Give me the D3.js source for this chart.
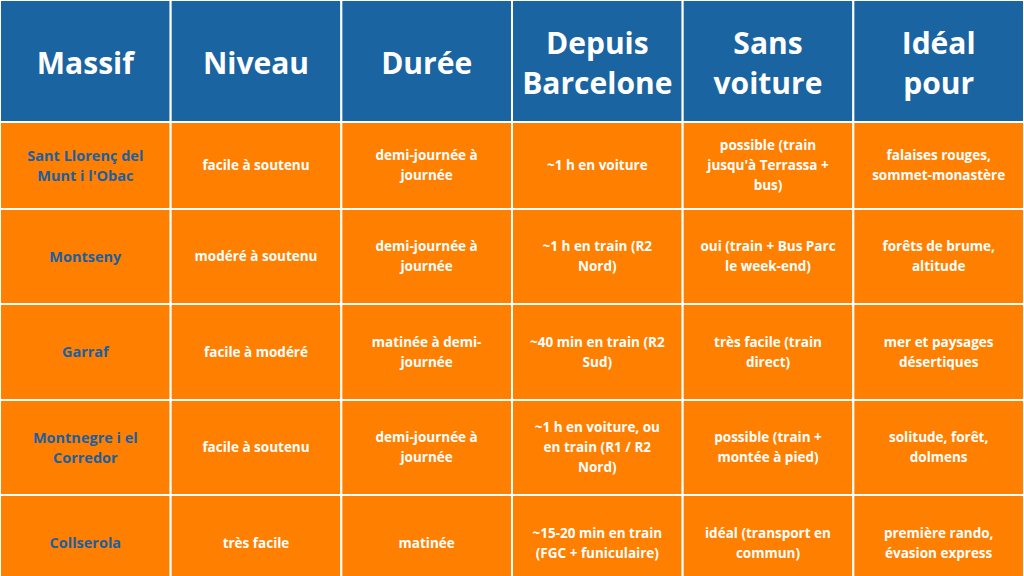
<!DOCTYPE html>
<html><head><meta charset="utf-8">
<script src="https://cdn.jsdelivr.net/npm/d3@7"></script>
<style>body{margin:0;background:#fff}</style></head>
<body><svg id="c" width="1024" height="576"></svg>
<script>
const headers = [["Massif"],["Niveau"],["Durée"],["Depuis","Barcelone"],["Sans","voiture"],["Idéal","pour"]];
const massifs = [["Sant Llorenç del","Munt i l'Obac"],["Montseny"],["Garraf"],["Montnegre i el","Corredor"],["Collserola"]];
const niveaux = [["facile à soutenu"],["modéré à soutenu"],["facile à modéré"],["facile à soutenu"],["très facile"]];
const durees = [["demi-journée à","journée"],["demi-journée à","journée"],["matinée à demi-","journée"],["demi-journée à","journée"],["matinée"]];
const depuis = [["~1 h en voiture"],["~1 h en train (R2","Nord)"],["~40 min en train (R2","Sud)"],["~1 h en voiture, ou","en train (R1 / R2","Nord)"],["~15-20 min en train","(FGC + funiculaire)"]];
const sansVoiture = [["possible (train","jusqu'à Terrassa +","bus)"],["oui (train + Bus Parc","le week-end)"],["très facile (train","direct)"],["possible (train +","montée à pied)"],["idéal (transport en","commun)"]];
const ideal = [["falaises rouges,","sommet-monastère"],["forêts de brume,","altitude"],["mer et paysages","désertiques"],["solitude, forêt,","dolmens"],["première rando,","évasion express"]];
const columns = [massifs,niveaux,durees,depuis,sansVoiture,ideal];

const svg = d3.select("#c");
const x = d3.scaleBand().domain(d3.range(6)).range([0,1024]);
const rowEdges = [0,122,209,304,400,495,591];
const font = "'Open Sans', sans-serif";

headers.forEach((h,i)=>{
  svg.append("rect").attr("x",x(i)).attr("y",0).attr("width",x.bandwidth()).attr("height",rowEdges[1])
    .attr("fill","#1b64a2").attr("stroke","#fff").attr("stroke-width",2);
  const t = svg.append("text").attr("x",x(i)+x.bandwidth()/2).attr("text-anchor","middle")
    .attr("fill","#fff").attr("font-family",font).attr("font-weight",700).attr("font-size",30);
  const lh=40, cy=rowEdges[1]/2+2;
  h.forEach((l,k)=>t.append("tspan").attr("x",x(i)+x.bandwidth()/2)
    .attr("y",cy+(k-(h.length-1)/2)*lh).attr("dy","0.35em").text(l));
});
for(let r=0;r<5;r++){
  const y0=rowEdges[r+1], y1=rowEdges[r+2], cy=(y0+y1)/2;
  columns.forEach((col,i)=>{
    svg.append("rect").attr("x",x(i)).attr("y",y0).attr("width",x.bandwidth()).attr("height",y1-y0)
      .attr("fill","#ff7f00").attr("stroke","#fff").attr("stroke-width",2);
    const lines=col[r];
    const t = svg.append("text").attr("text-anchor","middle")
      .attr("fill", i===0?"#1b5fa0":"#fff").attr("font-family",font).attr("font-weight",700)
      .attr("font-size", i===0?14.5:13.5);
    lines.forEach((l,k)=>t.append("tspan").attr("x",x(i)+x.bandwidth()/2)
      .attr("y",cy+(k-(lines.length-1)/2)*20).attr("dy","0.35em").text(l));
  });
}
</script></body></html>
